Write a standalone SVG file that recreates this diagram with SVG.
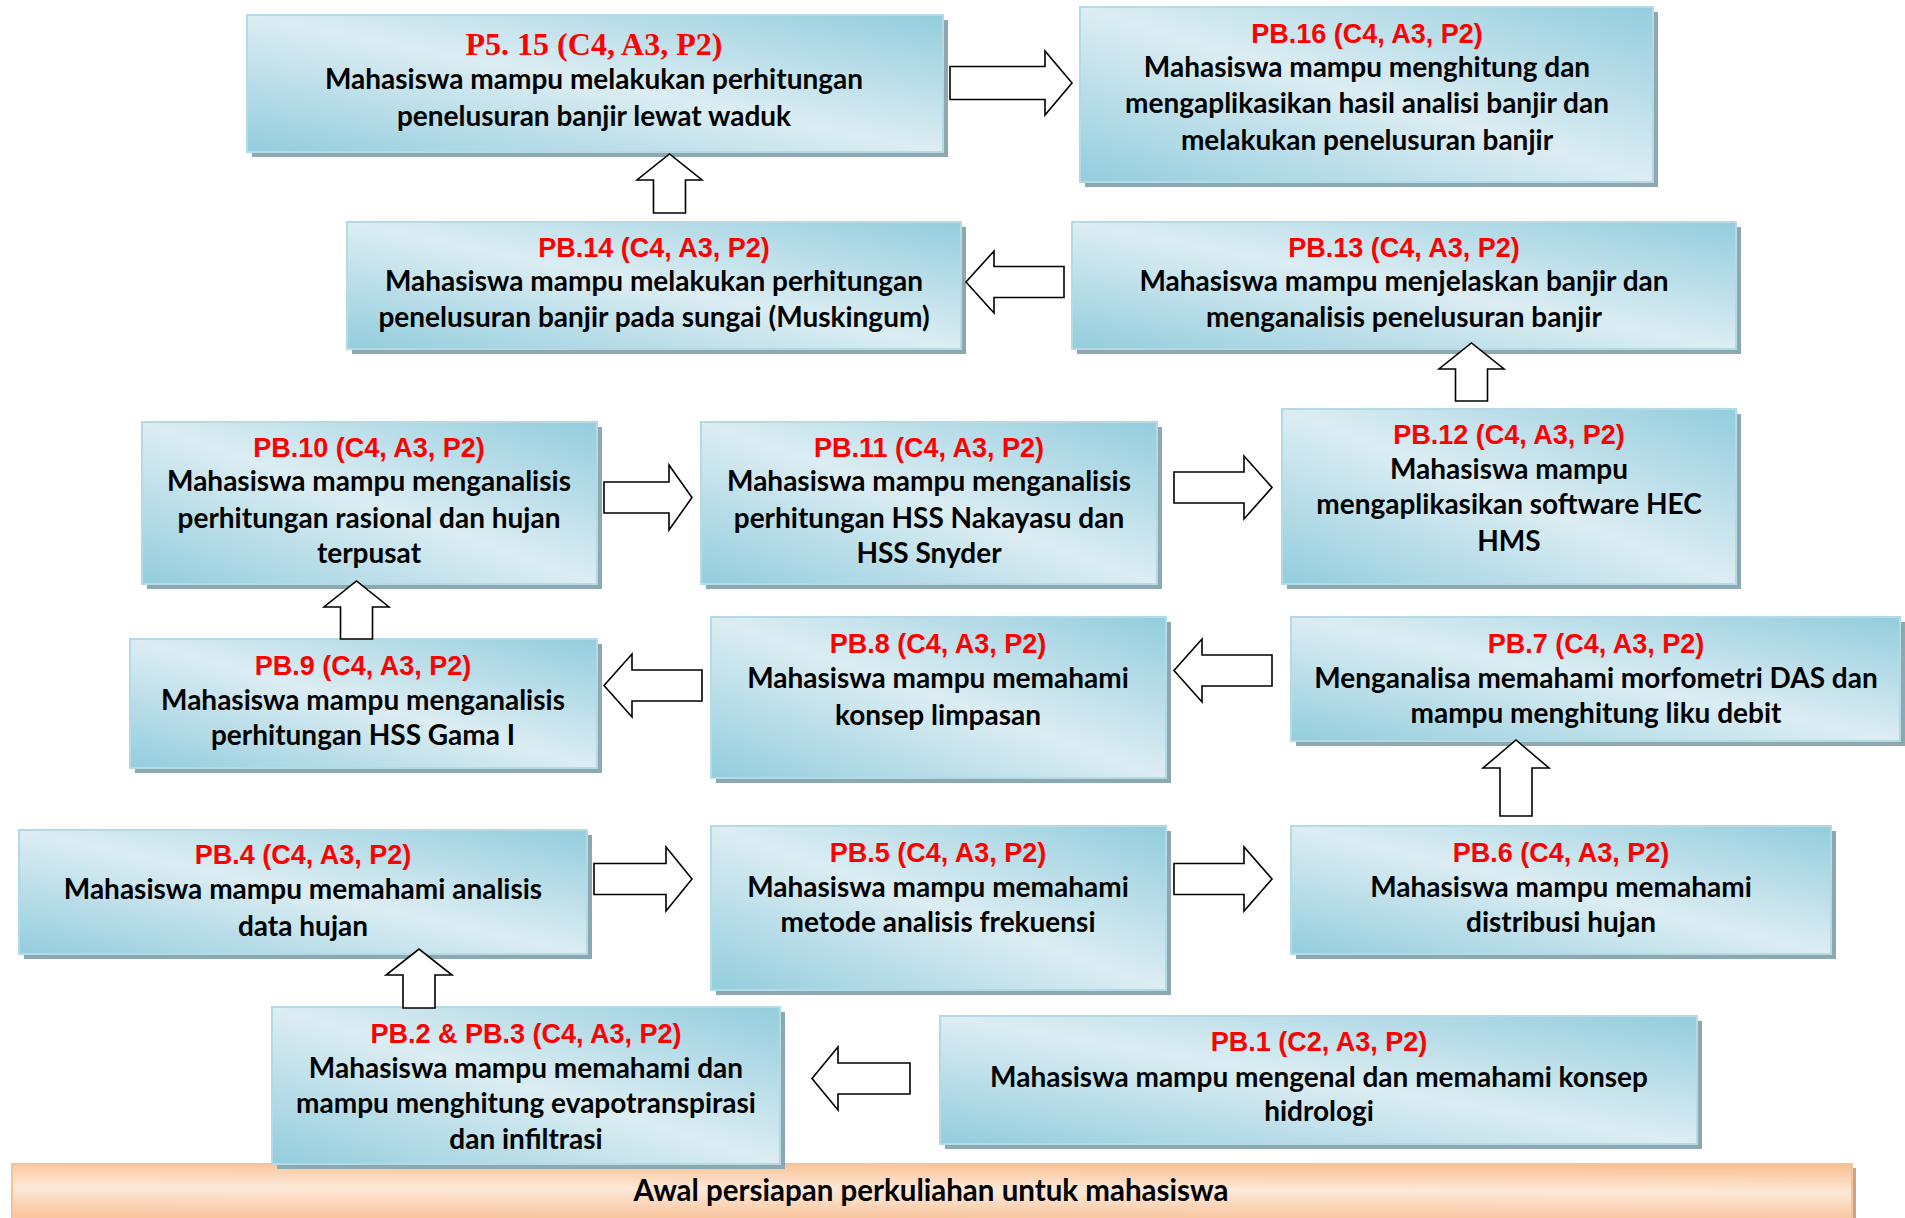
<svg xmlns="http://www.w3.org/2000/svg" width="1905" height="1218" viewBox="0 0 1905 1218">
<defs>
<linearGradient id="gBlue" x1="1" y1="0" x2="0" y2="1">
<stop offset="0" stop-color="#93cddd"/>
<stop offset="0.5" stop-color="#dcedf3"/>
<stop offset="1" stop-color="#93cddd"/>
</linearGradient>
<linearGradient id="gOrange" x1="1" y1="0" x2="0.9" y2="1">
<stop offset="0" stop-color="#f9bf8f"/>
<stop offset="0.5" stop-color="#fde9d9"/>
<stop offset="1" stop-color="#f9c6a0"/>
</linearGradient>
</defs>
<style>
.sh{fill:#8da8b0}
.bx{fill:url(#gBlue);stroke:#b2dbe6;stroke-width:2}
.hd{font-family:"Liberation Sans",Arial,sans-serif;font-weight:700;font-size:27px;fill:#ff0000;text-anchor:middle}
.hds{font-family:"Liberation Serif","Times New Roman",serif;font-weight:700;font-size:32px;fill:#ff0000;text-anchor:middle}
.tx{font-family:Lato,"Liberation Sans",sans-serif;font-weight:700;font-size:28px;fill:#000;text-anchor:middle}
.ar{fill:#fff;stroke:#000;stroke-width:1.6;stroke-linejoin:miter}
</style>
<rect width="1905" height="1218" fill="#fff"/>

<g id="base">
<rect x="16" y="1168" width="1840" height="54" style="fill:#caa58a"/>
<rect x="12" y="1164" width="1840" height="56" fill="url(#gOrange)" stroke="#f5c29a" stroke-width="2"/>
<text x="931" y="1201" class="tx" style="font-size:29.5px">Awal persiapan perkuliahan untuk mahasiswa</text>
</g>

<g id="pb1">
<rect x="945" y="1021" width="757" height="128" class="sh"/>
<rect x="940" y="1016" width="757" height="128" class="bx"/>
<text x="1319" y="1051" class="hd">PB.1 (C2, A3, P2)</text>
<text x="1319" y="1087" class="tx">Mahasiswa mampu mengenal dan memahami konsep</text>
<text x="1319" y="1121" class="tx">hidrologi</text>
</g>

<g id="pb2-3">
<rect x="277" y="1012" width="508" height="157" class="sh"/>
<rect x="272" y="1007" width="508" height="157" class="bx"/>
<text x="526" y="1043" class="hd">PB.2 &amp; PB.3 (C4, A3, P2)</text>
<text x="526" y="1078" class="tx">Mahasiswa mampu memahami dan</text>
<text x="526" y="1113" class="tx">mampu menghitung evapotranspirasi</text>
<text x="526" y="1149" class="tx">dan infiltrasi</text>
</g>

<g id="pb4">
<rect x="24" y="835" width="568" height="124" class="sh"/>
<rect x="19" y="830" width="568" height="124" class="bx"/>
<text x="303" y="864" class="hd">PB.4 (C4, A3, P2)</text>
<text x="303" y="899" class="tx">Mahasiswa mampu memahami analisis</text>
<text x="303" y="936" class="tx">data hujan</text>
</g>

<g id="pb5">
<rect x="716" y="831" width="455" height="164" class="sh"/>
<rect x="711" y="826" width="455" height="164" class="bx"/>
<text x="938" y="862" class="hd">PB.5 (C4, A3, P2)</text>
<text x="938" y="897" class="tx">Mahasiswa mampu memahami</text>
<text x="938" y="932" class="tx">metode analisis frekuensi</text>
</g>

<g id="pb6">
<rect x="1296" y="831" width="540" height="128" class="sh"/>
<rect x="1291" y="826" width="540" height="128" class="bx"/>
<text x="1561" y="862" class="hd">PB.6 (C4, A3, P2)</text>
<text x="1561" y="897" class="tx">Mahasiswa mampu memahami</text>
<text x="1561" y="932" class="tx">distribusi hujan</text>
</g>

<g id="pb7">
<rect x="1296" y="622" width="609" height="124" class="sh"/>
<rect x="1291" y="617" width="609" height="124" class="bx"/>
<text x="1596" y="653" class="hd">PB.7 (C4, A3, P2)</text>
<text x="1596" y="688" class="tx">Menganalisa memahami morfometri DAS dan</text>
<text x="1596" y="723" class="tx">mampu menghitung liku debit</text>
</g>

<g id="pb8">
<rect x="716" y="622" width="455" height="161" class="sh"/>
<rect x="711" y="617" width="455" height="161" class="bx"/>
<text x="938" y="653" class="hd">PB.8 (C4, A3, P2)</text>
<text x="938" y="688" class="tx">Mahasiswa mampu memahami</text>
<text x="938" y="725" class="tx">konsep limpasan</text>
</g>

<g id="pb9">
<rect x="135" y="644" width="467" height="129" class="sh"/>
<rect x="130" y="639" width="467" height="129" class="bx"/>
<text x="363" y="675" class="hd">PB.9 (C4, A3, P2)</text>
<text x="363" y="710" class="tx">Mahasiswa mampu menganalisis</text>
<text x="363" y="745" class="tx">perhitungan HSS Gama I</text>
</g>

<g id="pb10">
<rect x="147" y="427" width="455" height="162" class="sh"/>
<rect x="142" y="422" width="455" height="162" class="bx"/>
<text x="369" y="457" class="hd">PB.10 (C4, A3, P2)</text>
<text x="369" y="491" class="tx">Mahasiswa mampu menganalisis</text>
<text x="369" y="528" class="tx">perhitungan rasional dan hujan</text>
<text x="369" y="563" class="tx">terpusat</text>
</g>

<g id="pb11">
<rect x="706" y="427" width="456" height="162" class="sh"/>
<rect x="701" y="422" width="456" height="162" class="bx"/>
<text x="929" y="457" class="hd">PB.11 (C4, A3, P2)</text>
<text x="929" y="491" class="tx">Mahasiswa mampu menganalisis</text>
<text x="929" y="528" class="tx">perhitungan HSS Nakayasu dan</text>
<text x="929" y="563" class="tx">HSS Snyder</text>
</g>

<g id="pb12">
<rect x="1287" y="414" width="454" height="175" class="sh"/>
<rect x="1282" y="409" width="454" height="175" class="bx"/>
<text x="1509" y="444" class="hd">PB.12 (C4, A3, P2)</text>
<text x="1509" y="479" class="tx">Mahasiswa mampu</text>
<text x="1509" y="514" class="tx">mengaplikasikan software HEC</text>
<text x="1509" y="551" class="tx">HMS</text>
</g>

<g id="pb13">
<rect x="1077" y="227" width="664" height="127" class="sh"/>
<rect x="1072" y="222" width="664" height="127" class="bx"/>
<text x="1404" y="257" class="hd">PB.13 (C4, A3, P2)</text>
<text x="1404" y="291" class="tx">Mahasiswa mampu menjelaskan banjir dan</text>
<text x="1404" y="327" class="tx">menganalisis penelusuran banjir</text>
</g>

<g id="pb14">
<rect x="352" y="227" width="614" height="127" class="sh"/>
<rect x="347" y="222" width="614" height="127" class="bx"/>
<text x="654" y="257" class="hd">PB.14 (C4, A3, P2)</text>
<text x="654" y="291" class="tx">Mahasiswa mampu melakukan perhitungan</text>
<text x="654" y="327" class="tx">penelusuran banjir pada sungai (Muskingum)</text>
</g>

<g id="p5-15">
<rect x="252" y="20" width="696" height="137" class="sh"/>
<rect x="247" y="15" width="696" height="137" class="bx"/>
<text x="594" y="55" class="hds">P5. 15 (C4, A3, P2)</text>
<text x="594" y="89" class="tx">Mahasiswa mampu melakukan perhitungan</text>
<text x="594" y="126" class="tx">penelusuran banjir lewat waduk</text>
</g>

<g id="pb16">
<rect x="1085" y="12" width="573" height="175" class="sh"/>
<rect x="1080" y="7" width="573" height="175" class="bx"/>
<text x="1367" y="43" class="hd">PB.16 (C4, A3, P2)</text>
<text x="1367" y="77" class="tx">Mahasiswa mampu menghitung dan</text>
<text x="1367" y="113" class="tx">mengaplikasikan hasil analisi banjir dan</text>
<text x="1367" y="150" class="tx">melakukan penelusuran banjir</text>
</g>

<g id="connectors">
<path class="ar" d="M950,66.5 H1045 V51 L1072,83 L1045,115 V99.5 H950 Z"/>
<path class="ar" d="M653.5,213 V180 H637 L669.5,154 L702,180 H685.5 V213 Z"/>
<path class="ar" d="M1064,266.5 H994 V251 L966,282 L994,313 V297.5 H1064 Z"/>
<path class="ar" d="M1455.5,401 V369 H1439 L1471.5,343 L1504,369 H1487.5 V401 Z"/>
<path class="ar" d="M604,482 H669 V465 L692,497.5 L669,530 V513 H604 Z"/>
<path class="ar" d="M1174,472 H1244 V456 L1272,487.5 L1244,519 V503 H1174 Z"/>
<path class="ar" d="M340.5,639 V607 H324 L356.5,581 L389,607 H372.5 V639 Z"/>
<path class="ar" d="M702,670 H632 V654 L604,685.5 L632,717 V701 H702 Z"/>
<path class="ar" d="M1272,655 H1202 V639 L1174,670.5 L1202,702 V686 H1272 Z"/>
<path class="ar" d="M1500,816 V768 H1483 L1516,740 L1549,768 H1532 V816 Z"/>
<path class="ar" d="M594,863.5 H666 V847 L692,879 L666,911 V894.5 H594 Z"/>
<path class="ar" d="M1174,863.5 H1244 V847 L1272,879 L1244,911 V894.5 H1174 Z"/>
<path class="ar" d="M403,1008 V975 H386 L419,949 L452,975 H435 V1008 Z"/>
<path class="ar" d="M910,1063 H838 V1047 L812,1078.5 L838,1110 V1094 H910 Z"/>
</g>
</svg>
